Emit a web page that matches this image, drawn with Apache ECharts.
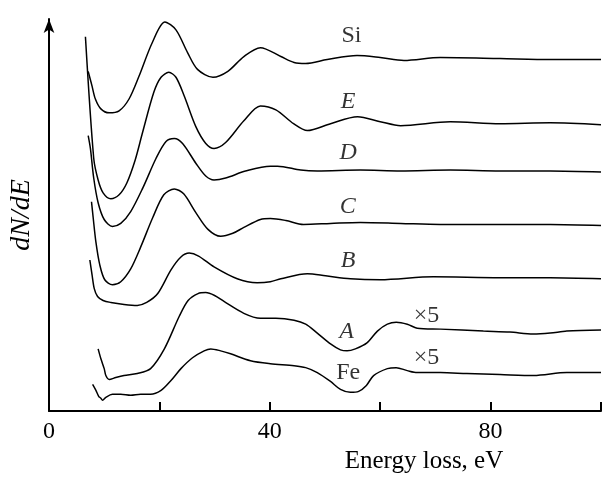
<!DOCTYPE html>
<html>
<head>
<meta charset="utf-8">
<script src="https://cdn.jsdelivr.net/npm/echarts@6/dist/echarts.min.js"></script>
<style>
  html, body { margin: 0; padding: 0; background: #fff; }
  #chart { width: 605px; height: 479px; }
</style>
</head>
<body>
<div id="chart"></div>
<script>
// spectra, [energy loss eV, dN/dE with vertical offset]
const si = [[7.1,344],[7.8,329],[8.4,316],[9.4,306],[10.9,302],[12.7,304],[14.5,316],[16.3,339],[18.7,373],[21.0,394],[23.0,386],[25.1,363],[26.9,346],[29.7,338],[32.4,344],[35.3,359],[38.3,368],[42.0,359],[44.4,353],[46.5,352],[50.4,356],[55.8,360],[60.0,358],[64.3,355],[70.9,358],[81.7,357],[90.8,356],[100,356]];
const e = [[6.6,379],[8.1,256],[8.9,234],[9.8,221],[11.2,215],[12.7,219],[14.1,231],[15.6,254],[16.9,281],[19.0,323],[20.3,338],[21.7,343],[23.0,338],[24.5,319],[26.6,288],[28.4,271],[29.9,266],[32.0,272],[35.3,294],[38.3,309],[41.1,305],[44.3,291],[46.8,284],[51.0,291],[55.9,298],[60.0,293],[63.7,289],[72.7,293],[81.7,291],[90.8,292],[100,290]];
const d = [[7.1,279],[7.5,266],[8.1,236],[8.9,211],[10.0,194],[11.5,187],[13.0,190],[14.8,202],[17.0,226],[19.4,256],[21.2,273],[22.7,276],[24.2,271],[26.6,251],[28.4,238],[29.9,234],[32.0,236],[35.6,243],[40.1,248],[41.4,248],[45.6,244],[48.6,243],[56.4,244],[63.7,243],[72.7,244],[81.7,243],[90.8,243],[100,242]];
const c = [[7.7,212],[8.0,196],[8.5,171],[9.2,148],[10.1,133],[11.5,128],[13.0,131],[14.8,144],[16.6,166],[18.8,196],[20.8,219],[22.7,225],[24.4,220],[26.6,201],[28.8,184],[31.1,177],[33.3,180],[35.3,186],[38.3,194],[40.1,195],[42.9,193],[46.1,189],[51.0,190],[56.4,191],[63.7,190],[70.9,189],[81.7,189],[90.8,189],[100,188]];
const b = [[7.4,153],[7.8,138],[8.2,124],[8.8,116],[9.8,112],[11.2,110],[13.6,108],[16.0,107],[17.7,110],[19.7,119],[22.1,143],[23.9,156],[25.4,160],[27.1,157],[29.9,146],[34.1,134],[37.7,130],[40.1,131],[42.0,134],[46.8,139],[50.1,137],[54.6,134],[60.0,133],[69.6,136],[81.7,135],[90.8,135],[100,134]];
const a = [[8.9,63],[9.4,53],[10.0,43],[10.3,36],[10.9,32],[12.1,34],[13.6,36],[16.0,38],[18.4,43],[20.9,63],[23.6,96],[25.2,112],[27.0,119],[28.4,120],[30.0,117],[31.7,111],[35.3,99],[38.3,94],[41.1,94],[44.4,92],[46.5,88],[48.6,79],[51.0,68],[52.8,62],[54.0,61],[55.5,63],[57.6,69],[59.5,81],[61.3,88],[62.9,90],[64.9,88],[66.7,84],[70.9,83],[78.7,81],[83.5,80],[87.7,78],[90.8,79],[93.8,81],[100,82]];
const fe = [[7.9,27],[8.5,21],[9.0,15],[9.4,13],[9.7,11],[10.3,14],[11.5,17],[13.0,17],[14.8,16],[16.6,17],[18.4,17],[20.3,21],[22.1,31],[23.9,43],[26.0,54],[28.1,61],[29.3,63],[31.1,61],[32.9,58],[36.5,51],[40.1,48],[44.4,46],[46.5,44],[48.6,39],[51.0,30],[52.8,22],[54.6,19],[56.1,20],[57.5,26],[58.8,36],[61.3,43],[62.9,44],[64.9,41],[66.7,39],[70.9,39],[75.7,38],[81.7,37],[87.8,36],[93.8,39],[100,39]];

// curve labels
const labelText = ['Si', 'E', 'D', 'C', 'B', 'A', 'Fe', '×5', '×5'];
const labelX = [54.8, 54.2, 54.2, 54.1, 54.2, 53.9, 54.2, 68.4, 68.4];
const labelY = [380, 313, 262, 207, 152, 80, 39, 97, 54];
const labelItalic = [false, true, true, true, true, true, false, false, false];

const xTicks = [0, 40, 80];

const serif = 'Liberation Serif';
let chart = echarts.init(document.getElementById('chart'));

const curves = [si, e, d, c, b, a, fe].map(arr => ({
  type: 'line',
  data: arr,
  showSymbol: false,
  smooth: 0.3,
  lineStyle: { color: '#000', width: 1.5 },
  silent: true
}));

const labels = {
  type: 'scatter',
  symbolSize: 0,
  silent: true,
  data: labelText.map((t, i) => ({
    value: [labelX[i], labelY[i]],
    label: {
      show: true,
      position: 'inside',
      formatter: t,
      color: '#000',
      fontFamily: serif,
      fontSize: 24,
      fontStyle: labelItalic[i] ? 'italic' : 'normal'
    }
  }))
};

chart.setOption({
  animation: false,
  grid: { left: 48, right: 4, top: 19, bottom: 63 },
  xAxis: {
    type: 'value',
    min: 0,
    max: 100,
    interval: 20,
    name: 'Energy loss, eV',
    nameLocation: 'middle',
    nameGap: 32,
    nameTextStyle: { color: '#000', fontFamily: serif, fontSize: 25, padding: [0, 0, 0, 198] },
    axisLine: { lineStyle: { color: '#000', width: 2 } },
    axisTick: { inside: true, length: 9, lineStyle: { color: '#000', width: 2 } },
    axisLabel: {
      color: '#000', fontFamily: serif, fontSize: 24, margin: 9,
      formatter: v => xTicks.indexOf(v) >= 0 ? String(v) : ''
    },
    splitLine: { show: false }
  },
  yAxis: {
    type: 'value',
    min: 0,
    max: 397,
    name: 'dN/dE',
    nameLocation: 'middle',
    nameGap: 13,
    nameTextStyle: { color: '#000', fontFamily: serif, fontSize: 28, fontStyle: 'italic' },
    axisLine: { show: true, symbol: ['none', 'arrow'], symbolSize: [8, 14], lineStyle: { color: '#000', width: 2 } },
    axisTick: { show: false },
    axisLabel: { show: false },
    splitLine: { show: false }
  },
  series: curves.concat([labels])
});
</script>
</body>
</html>
